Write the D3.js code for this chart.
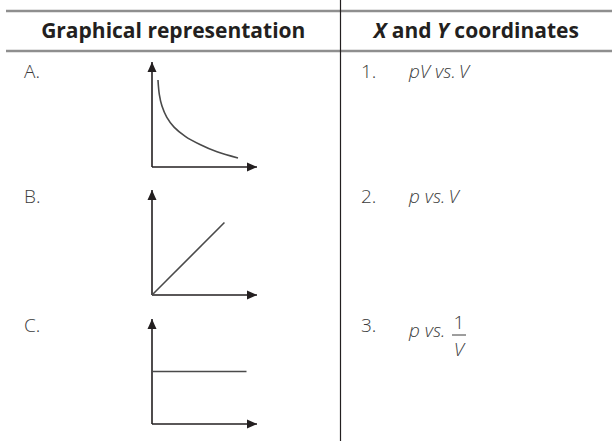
<!DOCTYPE html>
<html>
<head>
<meta charset="utf-8">
<script src="https://cdn.jsdelivr.net/npm/d3@7"></script>
<style>
  body { margin: 0; background: #fff; }
  svg { display: block; }
</style>
</head>
<body>
<div id="chart"></div>
<script>
// table contents
var headers = ["Graphical representation", "coordinates"];
var rowLabels = ["A.", "B.", "C."];
var coordNums = ["1.", "2.", "3."];
var coordTexts = ["pV vs.\u2009V", "p vs.\u2009V", "p vs."];
var fraction = ["1", "V"];

// sketch values (axis units 0..10)
var axisDomain = [0, 10];
var curveA = [[0.57, 8.29], [0.7, 6.9], [0.95, 5.8], [1.4, 4.75], [2.1, 3.8],
  [3.2, 2.9], [4.57, 2.15], [6.19, 1.45], [8.19, 0.86]];
var lineB = [[0, 0], [6.9, 6.9]];
var lineC = [[0, 5], [9, 5]];
var sketches = [curveA, lineB, lineC];

var W = 612, H = 441;
var divX = 340.5;
var originY = [167, 295, 424],
  textY = [78, 203, 332];

var svg = d3.select("#chart").append("svg").attr("width", W).attr("height", H);

svg.append("defs").append("marker").attr("id", "arrow").attr("markerUnits", "userSpaceOnUse")
  .attr("viewBox", "0 -5 10 10").attr("refX", 10).attr("refY", 0).attr("markerWidth", 10)
  .attr("markerHeight", 10).attr("orient", "auto").append("path").attr("d", "M0,-4.5L10,0L0,4.5Z")
  .attr("fill", "#231f20");

// header rules and column divider
svg.selectAll("line.rule").data([11, 51]).enter().append("line").attr("class", "rule")
  .attr("x1", 6).attr("x2", W).attr("y1", function(d) {
    return d;
  }).attr("y2", function(d) {
    return d;
  }).attr("stroke", "#8f8f8f").attr("stroke-width", 2.5);
svg.append("line").attr("x1", divX).attr("x2", divX).attr("y1", 0).attr("y2", H)
  .attr("stroke", "#231f20").attr("stroke-width", 1.2);

// headers
var headFont = "'Open Sans', 'Noto Sans', sans-serif";
svg.append("text").attr("x", (6 + divX) / 2).attr("y", 38).attr("text-anchor", "middle")
  .attr("font-family", headFont).attr("font-weight", 700).attr("font-size", 21)
  .attr("fill", "#231f20").text(headers[0]);
var h2 = svg.append("text").attr("x", (divX + W) / 2).attr("y", 38).attr("text-anchor", "middle")
  .attr("font-family", headFont).attr("font-weight", 700).attr("font-size", 21)
  .attr("fill", "#231f20");
h2.append("tspan").attr("font-style", "italic").text("X");
h2.append("tspan").text(" and ");
h2.append("tspan").attr("font-style", "italic").text("Y");
h2.append("tspan").text(" " + headers[1]);

var bodyFont = "'Open Sans', 'Lato', sans-serif";
var bodySize = 19;

// row letters
svg.selectAll("text.row").data(rowLabels).enter().append("text").attr("class", "row")
  .attr("x", 24).attr("y", function(d, i) {
    return textY[i];
  }).attr("font-family", bodyFont).attr("font-weight", 300).attr("font-size", bodySize)
  .attr("fill", "#3c3c3c").text(function(d) {
    return d;
  });

// coordinate numbers and texts
svg.selectAll("text.num").data(coordNums).enter().append("text").attr("class", "num")
  .attr("x", 361).attr("y", function(d, i) {
    return textY[i];
  }).attr("font-family", bodyFont).attr("font-weight", 300).attr("font-size", bodySize)
  .attr("fill", "#3c3c3c").text(function(d) {
    return d;
  });
svg.selectAll("text.coord").data(coordTexts).enter().append("text").attr("class", "coord")
  .attr("x", 409).attr("y", function(d, i) {
    return i == 2 ? textY[i] + 5 : textY[i];
  }).attr("font-family", bodyFont).attr("font-weight", 300).attr("font-style", "italic")
  .attr("font-size", bodySize).attr("fill", "#3c3c3c").text(function(d) {
    return d;
  });

// fraction 1/V
var fx = 459, fy = 335;
svg.append("line").attr("x1", fx - 7).attr("x2", fx + 7).attr("y1", fy).attr("y2", fy)
  .attr("stroke", "#3c3c3c").attr("stroke-width", 1);
svg.append("text").attr("x", fx).attr("y", fy - 6).attr("text-anchor", "middle")
  .attr("font-family", bodyFont).attr("font-weight", 300).attr("font-size", bodySize)
  .attr("fill", "#3c3c3c").text(fraction[0]);
svg.append("text").attr("x", fx).attr("y", fy + 21).attr("text-anchor", "middle")
  .attr("font-family", bodyFont).attr("font-weight", 300).attr("font-style", "italic")
  .attr("font-size", bodySize).attr("fill", "#3c3c3c").text(fraction[1]);

// small sketches
sketches.forEach(function(data, i) {
  var x = d3.scaleLinear().domain(axisDomain).range([152, 257]);
  var y = d3.scaleLinear().domain(axisDomain).range([originY[i], originY[i] - 105]);
  var g = svg.append("g").attr("class", "sketch");
  // axes with arrow heads
  g.append("line").attr("x1", x(0)).attr("y1", y(0)).attr("x2", x(0)).attr("y2", y(10))
    .attr("stroke", "#231f20").attr("stroke-width", 1.6).attr("marker-end", "url(#arrow)");
  g.append("line").attr("x1", x(0)).attr("y1", y(0)).attr("x2", x(10)).attr("y2", y(0))
    .attr("stroke", "#231f20").attr("stroke-width", 1.6).attr("marker-end", "url(#arrow)");
  var line = d3.line().x(function(d) {
    return x(d[0]);
  }).y(function(d) {
    return y(d[1]);
  }).curve(d3.curveCatmullRom);
  g.append("path").datum(data).attr("d", line).attr("fill", "none").attr("stroke", "#4a4a4a")
    .attr("stroke-width", 1.6);
});
</script>
</body>
</html>
